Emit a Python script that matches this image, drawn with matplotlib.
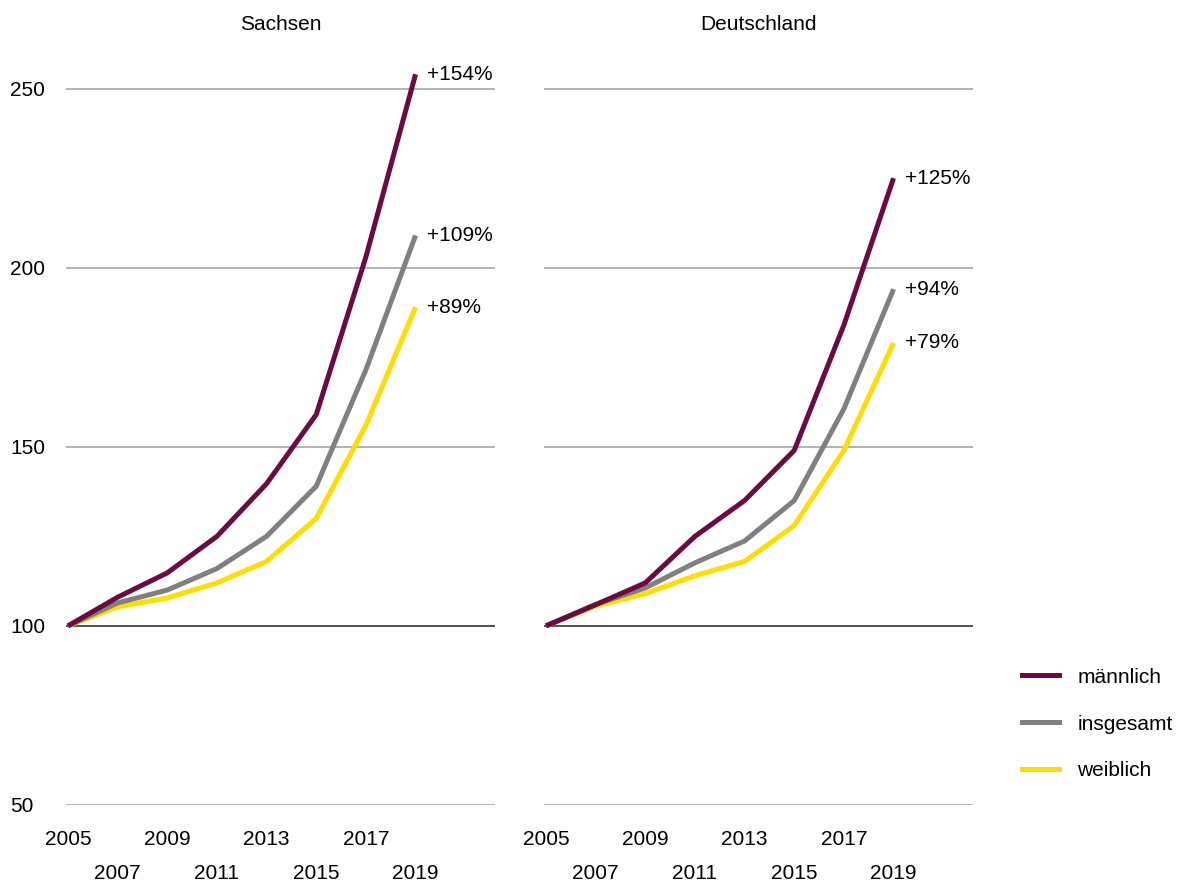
import matplotlib
matplotlib.use("Agg")
import matplotlib.pyplot as plt
from matplotlib.lines import Line2D

plt.rcParams['font.family'] = ['Liberation Sans', 'DejaVu Sans']

years = [2005, 2007, 2009, 2011, 2013, 2015, 2017, 2019]

# Index 2005 = 100
sachsen_m = [100, 108, 114.8, 125, 139.7, 159, 203, 254]
sachsen_g = [100, 106.4, 110, 116, 125, 139, 171.5, 209]
sachsen_w = [100, 105.3, 107.8, 112, 118, 130, 156, 189]

de_m = [100, 105.9, 112, 125, 135, 149, 184, 225]
de_g = [100, 106, 110.6, 117.6, 123.7, 135, 160.6, 194]
de_w = [100, 105.5, 109, 114, 118, 128, 149, 179]

sachsen_labels = ['+154%', '+109%', '+89%']
de_labels = ['+125%', '+94%', '+79%']

series_names = ['männlich', 'insgesamt', 'weiblich']
colors = ['#6b0a43', '#808080', '#ffdd00']

fs = 15

fig = plt.figure(figsize=(11.8, 8.84), dpi=100)
ax1 = fig.add_axes([66/1180, 0.0894, 429/1180, 0.859])
ax2 = fig.add_axes([544/1180, 0.0894, 429/1180, 0.859])

panels = [
    (ax1, 'Sachsen', [sachsen_m, sachsen_g, sachsen_w], sachsen_labels),
    (ax2, 'Deutschland', [de_m, de_g, de_w], de_labels),
]

for ax, title, data, labels in panels:
    for y in [50, 150, 200, 250]:
        ax.axhline(y, color='#a6a6a6', lw=1.2, zorder=1)
    ax.axhline(100, color='#333333', lw=1.2, zorder=1)
    for vals, c, z in zip(data, colors, [4, 3, 2]):
        ax.plot(years, vals, color=c, lw=3.6, zorder=z, solid_capstyle='butt')
    for vals, lab in zip(data, labels):
        ax.annotate(lab, (years[-1], vals[-1]), xytext=(8.5, 0),
                    textcoords='offset points', va='center', ha='left',
                    fontsize=fs)
    ax.set_xlim(2004.92, 2022.2)
    ax.set_ylim(50, 262)
    ax.set_yticks([50, 100, 150, 200, 250])
    ax.set_xticks([2005, 2009, 2013, 2017])
    ax.set_xticks([2007, 2011, 2015, 2019], minor=True)
    ax.set_xticklabels(['2005', '2009', '2013', '2017'])
    ax.set_xticklabels(['2007', '2011', '2015', '2019'], minor=True)
    ax.tick_params(axis='x', which='major', length=0, pad=18, labelsize=fs)
    ax.tick_params(axis='x', which='minor', length=0, pad=42.5, labelsize=fs)
    ax.tick_params(axis='y', length=0, pad=40, labelsize=fs)
    for t in ax.get_yticklabels():
        t.set_horizontalalignment('left')
    for s in ax.spines.values():
        s.set_visible(False)
    ax.set_title(title, fontsize=fs, pad=11)

ax2.set_yticklabels([])

handles = [Line2D([], [], color=c, lw=3.6) for c in colors]
fig.legend(handles, series_names, loc='center left', bbox_to_anchor=(1022/1180, 1 - 724/884),
           frameon=False, fontsize=fs, handlelength=1.78, labelspacing=1.34,
           handletextpad=0.87, borderpad=0, borderaxespad=0)

fig.savefig('out.png', dpi=100)
